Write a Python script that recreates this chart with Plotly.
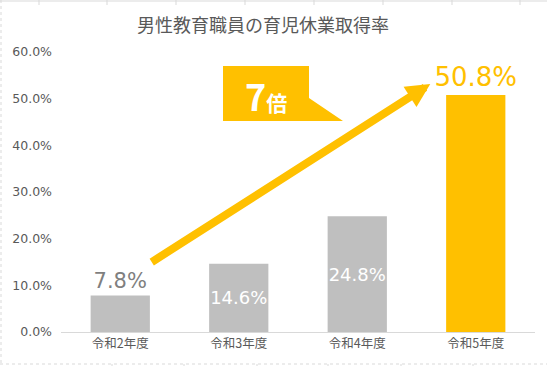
import plotly.graph_objects as go

categories = ["令和2年度", "令和3年度", "令和4年度", "令和5年度"]
values = [7.8, 14.6, 24.8, 50.8]
labels = ["7.8%", "14.6%", "24.8%", "50.8%"]
bar_colors = ["#BFBFBF", "#BFBFBF", "#BFBFBF", "#FFC000"]
label_colors = ["#7F7F7F", "#FFFFFF", "#FFFFFF", "#FFC000"]
label_sizes = [21, 18, 18, 26]
label_pos = ["outside", "inside", "inside", "outside"]
y_ticks = [0, 10, 20, 30, 40, 50, 60]
y_ticklabels = ["0.0%", "10.0%", "20.0%", "30.0%", "40.0%", "50.0%", "60.0%"]
title = "男性教育職員の育児休業取得率"
callout = "7倍"

W, H = 547, 366
L, R, T, B = 61, 12, 52, 34
pw, ph = W - L - R, H - T - B

def px(x):
    return (x - L) / pw

def py(y):
    return (H - B - y) / ph

FONT = "Noto Sans CJK JP"
NUMFONT = "DejaVu Sans, Noto Sans CJK JP"

fig = go.Figure()
fig.add_trace(go.Bar(
    x=categories, y=values, marker=dict(color=bar_colors, line=dict(width=0)),
    text=labels, textposition=label_pos, insidetextanchor="middle", textangle=0,
    constraintext="none",
    textfont=dict(color=label_colors, size=label_sizes, family=NUMFONT),
    cliponaxis=False, width=0.5, hoverinfo="skip",
))

shapes = []
path = "M {a},{b} L {c},{b} L {c},{d} L {e},{f} L {a},{f} Z".format(
    a=px(223), b=py(66), c=px(309), d=py(98), e=px(343), f=py(121))
shapes.append(dict(type="path", xref="paper", yref="paper", path=path,
                   fillcolor="#FFC000", line=dict(width=0)))
grid = "#D9D9D9"
shapes.append(dict(type="line", xref="paper", yref="paper", x0=px(0), x1=px(W), y0=py(1), y1=py(1), line=dict(color=grid, width=1)))
shapes.append(dict(type="line", xref="paper", yref="paper", x0=px(0), x1=px(W), y0=py(364), y1=py(364), line=dict(color=grid, width=1, dash="dot")))
shapes.append(dict(type="line", xref="paper", yref="paper", x0=px(1), x1=px(1), y0=py(0), y1=py(H), line=dict(color=grid, width=1, dash="dot")))
for gx in [39, 107, 176, 245, 314, 383, 452, 520]:
    shapes.append(dict(type="line", xref="paper", yref="paper", x0=px(gx), x1=px(gx), y0=py(0), y1=py(5), line=dict(color=grid, width=1)))
for gx in [112, 184, 257, 328, 401, 473]:
    shapes.append(dict(type="line", xref="paper", yref="paper", x0=px(gx), x1=px(gx), y0=py(364), y1=py(366), line=dict(color=grid, width=1)))

annotations = [
    dict(xref="x", yref="y", axref="x", ayref="y",
         x=(430 - 120) / 118.5, y=(332 - 84) / (280 / 60),
         ax=(150 - 120) / 118.5, ay=(332 - 263) / (280 / 60),
         text="", showarrow=True, arrowhead=2, arrowsize=0.6, arrowwidth=8,
         arrowcolor="#FFC000", standoff=0, startstandoff=0),
    dict(xref="paper", yref="paper", x=px(266), y=py(95), xanchor="center", yanchor="middle",
         text="<b><span style='font-size:36px'>7</span><span style='font-size:21px'>倍</span></b>",
         showarrow=False, font=dict(color="#FFFFFF", family=FONT)),
    dict(xref="paper", yref="paper", x=px(263), y=py(24), xanchor="center", yanchor="middle",
         text=title, showarrow=False, font=dict(color="#595959", size=18, family=FONT)),
]

fig.update_layout(
    width=W, height=H, margin=dict(l=L, r=R, t=T, b=B),
    paper_bgcolor="white", plot_bgcolor="white",
    showlegend=False, shapes=shapes, annotations=annotations,
    font=dict(family=FONT, color="#595959"),
    bargap=0.5,
)
fig.update_xaxes(showgrid=False, showline=True, linecolor="#D9D9D9", linewidth=1,
                 tickfont=dict(size=12.5, color="#595959", family=FONT), ticks="",
                 fixedrange=True)
fig.update_yaxes(range=[0, 60], tickvals=y_ticks, ticktext=y_ticklabels, showgrid=False,
                 zeroline=False, showline=False, ticks="",
                 tickfont=dict(size=12.5, color="#595959", family=NUMFONT),
                 ticklabelstandoff=8, fixedrange=True)

fig.write_html("out.html", config={"displayModeBar": False},
               post_script="document.body.style.margin='0';document.body.style.overflow='hidden';")
